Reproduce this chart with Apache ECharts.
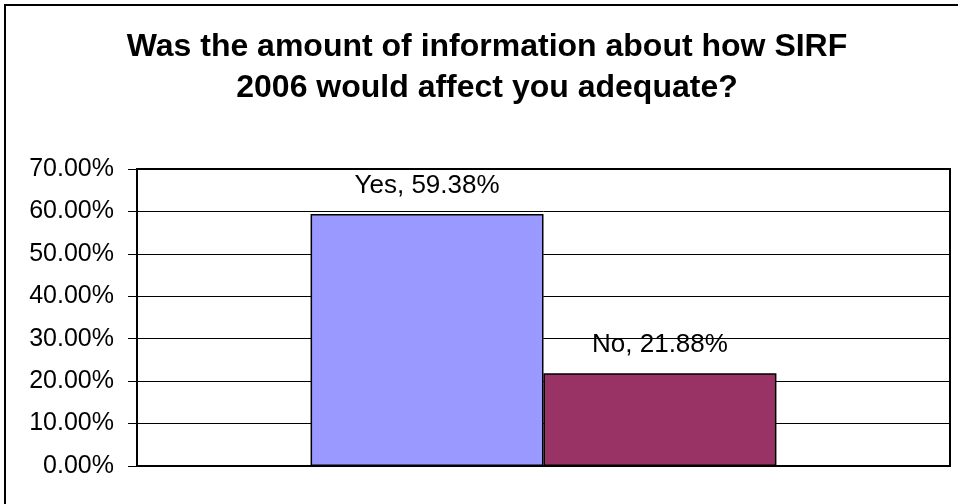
<!DOCTYPE html>
<html>
<head>
<meta charset="utf-8">
<script src="https://cdn.jsdelivr.net/npm/echarts@6/dist/echarts.min.js"></script>
<style>
html,body{margin:0;padding:0;background:#fff;}
#chart{width:958px;height:504px;}
</style>
</head>
<body>
<div id="chart"></div>
<script>
const titleText = 'Was the amount of information about how SIRF\n2006 would affect you adequate?';
const categories = [''];
const seriesNames = ['Yes', 'No'];
const yesValues = [59.38];
const noValues = [21.88];
const seriesColors = ['#9999FF', '#993366'];
const yTicks = { min: 0, max: 70, interval: 10 };

const chart = echarts.init(document.getElementById('chart'));
const font = '"Liberation Sans", Arial, sans-serif';
const mkSeries = (name, data, color) => ({
  name: name,
  type: 'bar',
  data: data,
  barGap: '0%',
  barCategoryGap: '42.7%',
  itemStyle: { color: color, borderColor: '#000', borderWidth: 1.5 },
  label: {
    show: true,
    position: 'top',
    distance: 15,
    fontFamily: font,
    fontSize: 26,
    color: '#000',
    formatter: p => p.seriesName + ', ' + p.value.toFixed(2) + '%'
  }
});

chart.setOption({
  animation: false,
  backgroundColor: '#fff',
  title: {
    text: titleText,
    left: 487,
    top: 27,
    padding: 0,
    textAlign: 'center',
    textStyle: { fontFamily: font, fontSize: 32, fontWeight: 'bold', color: '#000', lineHeight: 41 }
  },
  graphic: [{
    type: 'rect',
    shape: { x: 5, y: 5, width: 1200, height: 1200 },
    style: { fill: 'none', stroke: '#000', lineWidth: 2 },
    z: 100
  }],
  grid: {
    left: 137, right: 8, top: 169, bottom: 38,
    show: true, borderColor: '#000', borderWidth: 2, backgroundColor: '#fff',
    containLabel: false
  },
  xAxis: {
    type: 'category',
    data: categories,
    axisLine: { show: true, lineStyle: { color: '#000', width: 2 } },
    axisTick: { show: false },
    axisLabel: { show: false }
  },
  yAxis: {
    type: 'value',
    min: yTicks.min, max: yTicks.max, interval: yTicks.interval,
    axisLine: { show: true, lineStyle: { color: '#000', width: 2 } },
    axisTick: { show: true, length: 9, lineStyle: { color: '#000', width: 1 } },
    axisLabel: {
      margin: 23,
      fontFamily: font, fontSize: 25, color: '#000',
      formatter: v => v.toFixed(2) + '%'
    },
    splitLine: { show: true, lineStyle: { color: '#000', width: 1 } }
  },
  series: [
    mkSeries(seriesNames[0], yesValues, seriesColors[0]),
    mkSeries(seriesNames[1], noValues, seriesColors[1])
  ]
});
</script>
</body>
</html>
